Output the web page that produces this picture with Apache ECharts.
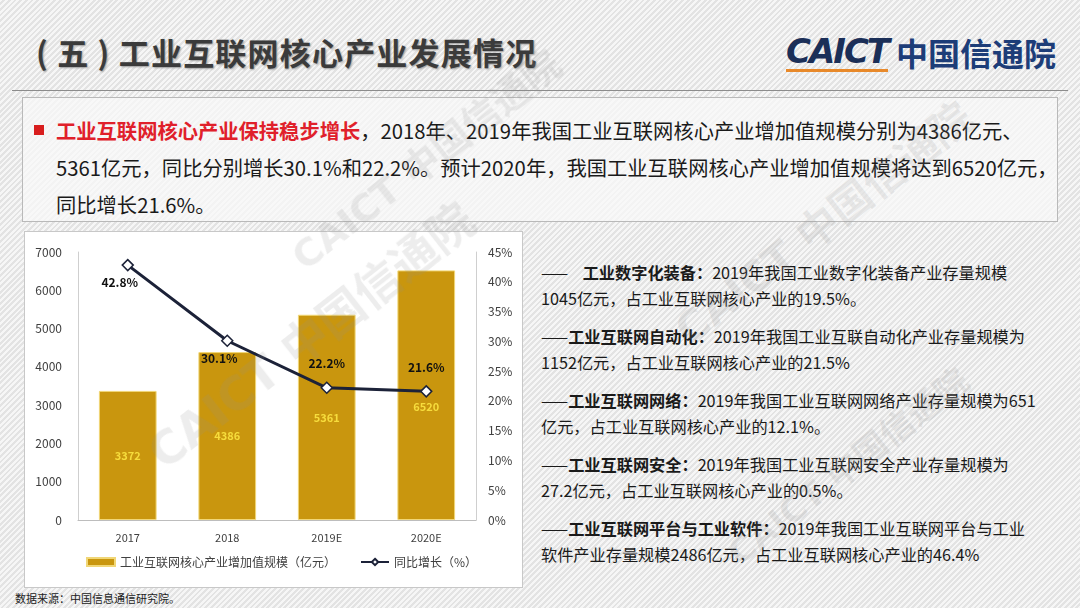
<!DOCTYPE html>
<html>
<head>
<meta charset="utf-8">
<script src="https://cdn.jsdelivr.net/npm/echarts@6/dist/echarts.min.js"></script>
<style>
  html, body { margin: 0; padding: 0; }
  body {
    width: 1080px; height: 608px; position: relative; overflow: hidden;
    font-family: "Noto Sans CJK SC", "Noto Sans", sans-serif;
    background: #ececec repeating-linear-gradient(135deg, rgba(255,255,255,0.55) 0 2px, rgba(200,200,200,0.25) 2px 4px);
  }
  .title { position: absolute; left: 36px; top: 29px; font-size: 31px; font-weight: bold; color: #3b3b3b; letter-spacing: 1.2px; text-shadow: 1px 1px 2px #999; white-space: nowrap; }
  .logo { position: absolute; left: 786px; top: 34px; height: 40px; }
  .logo .en { position: absolute; left: 0; top: 0; font-family: "DejaVu Sans", sans-serif; font-size: 34px; font-weight: bold; font-style: italic; color: #1b2f58; letter-spacing: -2px; border-bottom: 3px solid #e8892a; line-height: 34px; padding-bottom: 1px; }
  .logo .cn { position: absolute; left: 110px; top: -5px; font-size: 32px; font-weight: bold; color: #1d3d78; white-space: nowrap; }
  .hline { position: absolute; left: 12px; top: 90px; width: 1056px; height: 1px; background: #8c8c8c; }
  .box { position: absolute; left: 22px; top: 97px; width: 1034px; height: 123px; border: 1px solid #b9b9b9; background: rgba(248,248,248,0.75); }
  .box .bullet { position: absolute; left: 11px; top: 27px; width: 10px; height: 10px; background: #d81e1e; }
  .box .txt { position: absolute; left: 33px; top: 14px; width: 1010px; font-size: 20.3px; line-height: 37px; color: #1a1a1a; white-space: nowrap; }
  .box .red { color: #e0202a; font-weight: bold; }
  #chart { position: absolute; left: 24px; top: 231px; width: 499px; height: 357px; background: #fff; border: 1px solid #c8c8c8; box-sizing: border-box; }
  .src { position: absolute; left: 15px; top: 590px; font-size: 11px; color: #222; }
  .side { position: absolute; left: 541px; top: 259px; width: 530px; font-size: 16.2px; line-height: 26px; color: #1a1a1a; white-space: nowrap; }
  .side p { margin: 0 0 12px 0; }
  .side b { font-weight: bold; }
  .wm { position: absolute; font-family: "DejaVu Sans", "Noto Sans CJK SC", sans-serif; font-weight: bold; font-size: 46px; color: rgba(140,140,140,0.16); transform: rotate(-38deg); white-space: nowrap; pointer-events: none; }
</style>
</head>
<body>
<div class="title">( 五 ) 工业互联网核心产业发展情况</div>
<div class="logo"><span class="en">CAICT</span><span class="cn">中国信通院</span></div>
<div class="hline"></div>
<div class="box">
  <div class="bullet"></div>
  <div class="txt"><span class="red">工业互联网核心产业保持稳步增长</span>，2018年、2019年我国工业互联网核心产业增加值规模分别为4386亿元、<br>5361亿元，同比分别增长30.1%和22.2%。预计2020年，我国工业互联网核心产业增加值规模将达到6520亿元，<br>同比增长21.6%。</div>
</div>
<div id="chart"></div>
<div class="src">数据来源：中国信息通信研究院。</div>
<div class="side">
  <p>——&nbsp;&nbsp;&nbsp;&nbsp;<b>工业数字化装备：</b>2019年我国工业数字化装备产业存量规模<br>1045亿元，占工业互联网核心产业的19.5%。</p>
  <p>——<b>工业互联网自动化：</b>2019年我国工业互联自动化产业存量规模为<br>1152亿元，占工业互联网核心产业的21.5%</p>
  <p>——<b>工业互联网网络：</b>2019年我国工业互联网网络产业存量规模为651<br>亿元，占工业互联网核心产业的12.1%。</p>
  <p>——<b>工业互联网安全：</b>2019年我国工业互联网安全产业存量规模为<br>27.2亿元，占工业互联网核心产业的0.5%。</p>
  <p>——<b>工业互联网平台与工业软件：</b>2019年我国工业互联网平台与工业<br>软件产业存量规模2486亿元，占工业互联网核心产业的46.4%</p>
</div>
<div class="wm" style="left:110px; top:300px;">CAICT 中国信通院</div>
<div class="wm" style="left:260px; top:130px; font-size:38px;">CAICT 中国信通院</div>
<div class="wm" style="left:640px; top:190px; font-size:42px;">CAICT 中国信通院</div>
<div class="wm" style="left:700px; top:440px; font-size:34px;">CAICT 中国信通院</div>
<script>
var years = ['2017', '2018', '2019E', '2020E'];
var coreValue = [3372, 4386, 5361, 6520];
var growthRate = [42.8, 30.1, 22.2, 21.6];
var barName = '工业互联网核心产业增加值规模（亿元）';
var lineName = '同比增长（%）';

var chart = echarts.init(document.getElementById('chart'));
chart.setOption({
  animation: false,
  textStyle: { fontFamily: 'Noto Sans CJK SC' },
  grid: { left: 53, right: 46, top: 20, bottom: 67 },
  legend: {
    bottom: 14,
    left: 56,
    itemGap: 24,
    itemWidth: 28,
    itemHeight: 8,
    textStyle: { fontSize: 12, color: '#404040' },
    data: [
      { name: barName, icon: 'rect' },
      { name: lineName }
    ]
  },
  xAxis: {
    type: 'category',
    data: years,
    axisLine: { lineStyle: { color: '#bdbdbd' } },
    axisTick: { show: false },
    axisLabel: { color: '#404040', fontSize: 11, margin: 12 }
  },
  yAxis: [
    {
      type: 'value', min: 0, max: 7000, interval: 1000,
      splitLine: { show: false },
      axisLine: { show: true, lineStyle: { color: '#cfcfcf' } },
      axisLabel: { color: '#404040', fontSize: 12, margin: 16, formatter: function (v) { return String(v); } }
    },
    {
      type: 'value', min: 0, max: 45, interval: 5,
      splitLine: { show: false },
      axisLine: { show: true, lineStyle: { color: '#cfcfcf' } },
      axisLabel: { color: '#404040', fontSize: 12, margin: 12, formatter: '{value}%' }
    }
  ],
  series: [
    {
      name: barName,
      type: 'bar',
      barWidth: '58%',
      data: coreValue.map(function (v, i) {
        // last label sits a bit lower so it clears the line marker
        return i === coreValue.length - 1 ? { value: v, label: { offset: [0, 12] } } : v;
      }),
      itemStyle: { color: '#c9960e', borderColor: '#f1d777', borderWidth: 1 },
      label: { show: true, position: 'inside', color: '#f6dc3c', fontSize: 11, fontWeight: 'bold' }
    },
    {
      name: lineName,
      type: 'line',
      yAxisIndex: 1,
      data: growthRate.map(function (v, i) {
        return {
          value: v,
          label: i < 2 ? { position: 'bottom', offset: [-8, 0] } : { position: 'top', distance: 12 }
        };
      }),
      symbol: 'diamond',
      symbolSize: 11,
      lineStyle: { color: '#1c2238', width: 3 },
      itemStyle: { color: '#ffffff', borderColor: '#1c2238', borderWidth: 1.5 },
      label: { show: true, color: '#111', fontSize: 12, fontWeight: 'bold', formatter: '{c}%' }
    }
  ]
});
</script>
</body>
</html>
